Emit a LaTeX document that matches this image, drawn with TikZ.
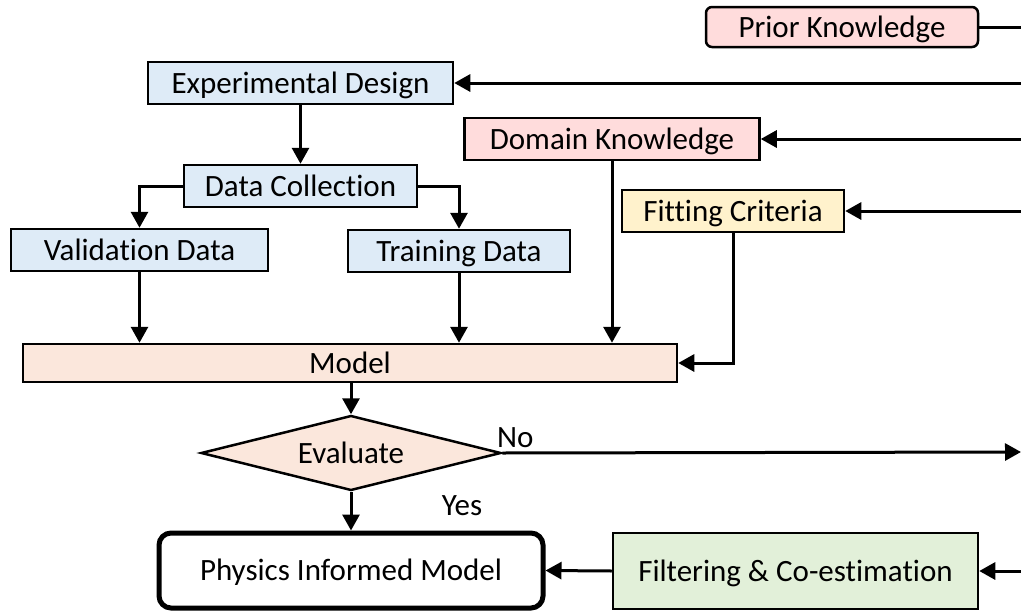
\documentclass[tikz,border=0pt]{standalone}
\usepackage{fontspec}
\setmainfont{Carlito}[Ligatures=NoCommon]
\usetikzlibrary{shapes.geometric,arrows.meta}
\definecolor{cblue}{HTML}{DEEBF7}
\definecolor{cpink}{HTML}{FFDCDC}
\definecolor{cpeach}{HTML}{FBE7DC}
\definecolor{cyellow}{HTML}{FFF2CC}
\definecolor{cgreen}{HTML}{E2F0D9}
\tikzset{
  box/.style={draw=black, line width=2.5pt, inner sep=0pt, text height=20pt, text depth=0pt, font=\fontsize{31}{37}\selectfont},
  bluebox/.style={box, fill=cblue},
  conn/.style={line width=3pt, -{Triangle[length=16pt,width=17pt]}},
  plain/.style={line width=3pt},
  lbl/.style={font=\fontsize{31}{37}\selectfont, inner sep=0pt}
}
\begin{document}
\begin{tikzpicture}[x=1pt,y=-1pt]
\useasboundingbox (0,0) rectangle (1021,611);
% nodes
\node[box, fill=cpink, rounded corners=6pt, minimum width=272pt, minimum height=40pt] (prior) at (842,27) {Prior Knowledge};
\node[bluebox, minimum width=305pt, minimum height=42pt] (expd) at (300.5,83) {Experimental Design};
\node[box, fill=cpink, minimum width=295pt, minimum height=42pt] (domk) at (612,139) {Domain Knowledge};
\node[box, fill=cyellow, minimum width=222pt, minimum height=42pt] (fitc) at (733,211) {Fitting Criteria};
\node[bluebox, minimum width=233pt, minimum height=42pt] (datac) at (300.5,186) {Data Collection};
\node[bluebox, minimum width=257pt, minimum height=42pt] (vald) at (139.5,250) {Validation Data};
\node[bluebox, minimum width=222pt, minimum height=42pt] (train) at (459,251) {Training Data};
\node[box, fill=cpeach, minimum width=654pt, minimum height=38pt] (model) at (350,363) {Model};
\node[box, fill=cpeach, diamond, aspect=4, minimum width=300pt, minimum height=75pt] (eval) at (351,453) {Evaluate};
\node[box, fill=white, line width=5pt, rounded corners=12pt, minimum width=384pt, minimum height=75pt] (pim) at (351,570.5) {Physics Informed Model};
\node[box, fill=cgreen, minimum width=365pt, minimum height=76pt] (filt) at (795.5,571) {Filtering \& Co-estimation};
% free ends
\coordinate (r1) at (1021,27);
\coordinate (r2) at (1021,83);
\coordinate (r3) at (1021,139);
\coordinate (r4) at (1021,211);
\coordinate (r5) at (1021,452);
\coordinate (r6) at (1021,571);
% connectors
\draw[plain] (prior.east) -- (r1);
\draw[conn] (r2) -- (expd.east);
\draw[conn] (r3) -- (domk.east);
\draw[conn] (r4) -- (fitc.east);
\draw[conn] (expd.south) -- (datac.north);
\draw[conn] (datac.west) -| (vald.north);
\draw[conn] (datac.east) -| (train.north);
\draw[conn] (vald.south) -- (vald.south |- model.north);
\draw[conn] (train.south) -- (train.south |- model.north);
\draw[conn] (domk.south) -- (domk.south |- model.north);
\draw[conn] (fitc.south) |- (model.east);
\draw[conn] (model.south -| eval.north) -- (eval.north);
\draw[conn] (eval.east) -- (r5);
\draw[conn] (eval.south) -- (pim.north);
\draw[conn] (filt.west) -- (pim.east);
\draw[conn] (r6) -- (filt.east);
% labels
\node[lbl, anchor=south west] (no) at (497,448) {No};
\node[lbl] (yes) at (462,506) {Yes};
\end{tikzpicture}
\end{document}
